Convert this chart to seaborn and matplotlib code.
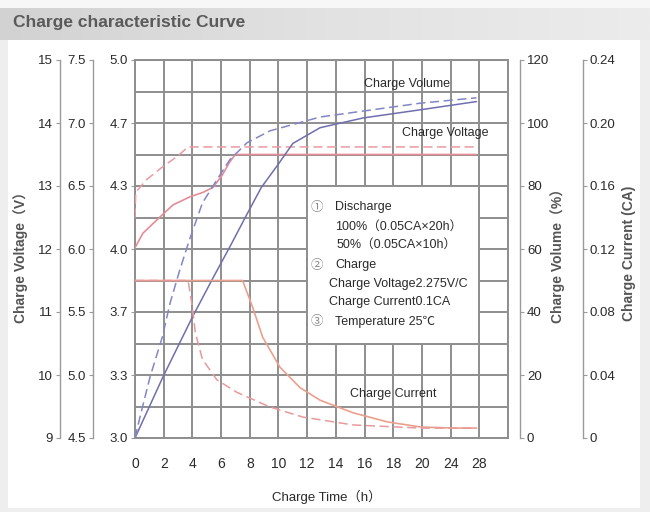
import numpy as np
import pandas as pd
import matplotlib
matplotlib.use("Agg")
import matplotlib.pyplot as plt
from matplotlib.patches import Rectangle
import seaborn as sns

# ---------------- data ----------------
time_ticks = [0, 2, 4, 6, 8, 10, 12, 14, 16, 18, 20, 22, 24]
time_labels = ["0", "2", "4", "6", "8", "10", "12", "14", "16", "18", "20", "24", "28"]

volt12_ticks = [9, 10, 11, 12, 13, 14, 15]
volt6_ticks = [4.5, 5.0, 5.5, 6.0, 6.5, 7.0, 7.5]
volt2_labels = ["3.0", "3.3", "3.7", "4.0", "4.3", "4.7", "5.0"]
volume_ticks = [0, 20, 40, 60, 80, 100, 120]
current_ticks = [0, 0.04, 0.08, 0.12, 0.16, 0.20, 0.24]
current_labels = ["0", "0.04", "0.08", "0.12", "0.16", "0.20", "0.24"]

# charge volume (%)
vol_full_t = [0, 1.95, 4.0, 5.4, 6.6, 7.8, 8.8, 10.0, 11.0, 12.9, 15.9, 19.9, 23.8]
vol_full = [0, 19.4, 38.4, 50.5, 60.6, 71.0, 79.5, 87.0, 93.5, 98.5, 101.6, 104.2, 106.8]
vol_half_t = [0, 0.35, 1.05, 1.9, 2.45, 3.1, 3.8, 4.7, 5.7, 6.6, 7.8, 9.4, 12.9, 16.4, 19.9, 23.8]
vol_half = [0, 6.7, 19.4, 32.0, 42.9, 53.0, 63.0, 74.6, 81.9, 88.3, 93.7, 97.5, 101.9, 104.1, 106.3, 108.0]

# charge voltage (V)
volt_full_t = [0, 0.55, 1.75, 2.65, 3.85, 4.75, 5.45, 6.1, 6.6, 7.0, 23.8]
volt_full = [12.02, 12.25, 12.51, 12.70, 12.83, 12.90, 12.98, 13.18, 13.38, 13.50, 13.50]
volt_half_t = [0, 0.05, 0.8, 1.9, 3.0, 3.7, 23.8]
volt_half = [12.5, 12.9, 13.1, 13.3, 13.48, 13.62, 13.62]

# charge current (CA)
cur_full_t = [0, 7.5, 8.2, 8.9, 10.1, 11.5, 12.9, 15.2, 17.6, 19.9, 22.2, 23.8]
cur_full = [0.1, 0.1, 0.083, 0.064, 0.045, 0.032, 0.024, 0.016, 0.0102, 0.007, 0.0063, 0.0063]
cur_half_t = [0, 3.7, 4.0, 4.2, 4.7, 5.7, 7.1, 9.4, 11.7, 15.2, 19.9, 23.8]
cur_half = [0.1, 0.1, 0.083, 0.067, 0.05, 0.037, 0.029, 0.0197, 0.0133, 0.0083, 0.0063, 0.0063]

legend_lines = [
    ("①", "Discharge", 335, 207),
    (None, "100%（0.05CA×20h）", 335, 227),
    (None, "50%（0.05CA×10h）", 337, 245),
    ("②", "Charge", 335, 265),
    (None, "Charge Voltage2.275V/C", 329, 284),
    (None, "Charge Current0.1CA", 329, 302),
    ("③", "Temperature 25℃", 335, 322),
]

# ---------------- style ----------------
sns.set_style("white")
FAM = ["Liberation Sans", "Noto Sans CJK SC", "DejaVu Sans"]
plt.rcParams["font.family"] = FAM

W, H = 650, 512
PT = 72 / 100  # points per pixel
fig = plt.figure(figsize=(6.5, 5.12), dpi=100, facecolor="#eeeeee")


def fx(x):
    return x / W


def fy(y):
    return 1 - y / H


# background panels
fig.patches.append(Rectangle((0, fy(8)), 1, 8 / H, transform=fig.transFigure,
                             facecolor="#f7f7f7", edgecolor="none", zorder=-20))
fig.patches.append(Rectangle((fx(8), fy(508)), fx(640 - 8), (508 - 40) / H,
                             transform=fig.transFigure, facecolor="white",
                             edgecolor="none", zorder=-20))
band = fig.add_axes([0, fy(40), 1, 32 / H])
grad = np.linspace(0, 1, 256)[None, :]
band.imshow(grad, aspect="auto", cmap=matplotlib.colors.LinearSegmentedColormap.from_list(
    "g", ["#d2d2d2", "#e2e2e2", "#ececec"]), extent=[0, 1, 0, 1])
band.set_axis_off()
fig.text(fx(13), fy(23), "Charge characteristic Curve", fontsize=12.5,
         fontweight="bold", color="#5a5a5a", va="center", ha="left")

GRID = "#8e8e8e"
SP = "#9a9a9a"
TXT = "#2a2a2a"

ax = fig.add_axes([fx(135), fy(438), fx(373), 378 / H])
ax.set_xlim(0, 26)
ax.set_ylim(0, 120)
ax.set_xticks(time_ticks)
ax.set_xticklabels(time_labels)
ax.set_xticks(np.arange(0, 27, 2), minor=True)
ax.set_yticks(volume_ticks)
ax.set_yticklabels(volt2_labels)
ax.set_yticks(np.arange(10, 120, 20), minor=True)
ax.grid(True, which="both", color=GRID, lw=1.4)
ax.set_axisbelow(True)
for s in ax.spines.values():
    s.set_color(GRID)
    s.set_linewidth(1.4)
ax.tick_params(axis="x", which="both", length=0, pad=14, labelsize=10, labelcolor=TXT)
ax.tick_params(axis="y", which="major", length=3, direction="out", color=SP,
               pad=2, labelsize=9.5, labelcolor=TXT)
ax.tick_params(axis="y", which="minor", length=0)
ax.add_patch(Rectangle((12, 30), 12, 50, facecolor="white", edgecolor=GRID,
                       lw=1.4, zorder=1))


def make_twin(side, offset_px):
    t = ax.twinx()
    for k, s in t.spines.items():
        s.set_visible(k == side)
    t.spines[side].set_position(("outward", offset_px * PT))
    t.spines[side].set_color(SP)
    t.spines[side].set_linewidth(1.0)
    if side == "left":
        t.yaxis.tick_left()
    else:
        t.yaxis.tick_right()
    t.tick_params(axis="y", length=3, direction="out", color=SP, pad=2,
                  labelsize=9.5, labelcolor=TXT)
    t.grid(False)
    return t


ax_v12 = make_twin("left", 75)
ax_v12.set_ylim(9, 15)
ax_v12.set_yticks(volt12_ticks)
ax_v12.set_yticklabels([str(v) for v in volt12_ticks])

ax_v6 = make_twin("left", 42)
ax_v6.set_ylim(4.5, 7.5)
ax_v6.set_yticks(volt6_ticks)
ax_v6.set_yticklabels([f"{v:.1f}" for v in volt6_ticks])

ax_vol = make_twin("right", 12)
ax_vol.set_ylim(0, 120)
ax_vol.set_yticks(volume_ticks)
ax_vol.set_yticklabels([str(v) for v in volume_ticks])

ax_cur = make_twin("right", 75)
ax_cur.set_ylim(0, 0.24)
ax_cur.set_yticks(current_ticks)
ax_cur.set_yticklabels(current_labels)

# ---------------- curves ----------------
def draw(axis, xs, ys, color, dashed, lw=1.1):
    df = pd.DataFrame({"t": xs, "v": ys})
    ln = sns.lineplot(data=df, x="t", y="v", ax=axis, color=color, lw=lw,
                      sort=False, estimator=None, legend=False)
    if dashed:
        ln.lines[-1].set_dashes((6, 3))
    axis.set_xlabel("")
    axis.set_ylabel("")


draw(ax_v12, volt_full_t, volt_full, "#e58c96", False, 1.2)
draw(ax_v12, volt_half_t, volt_half, "#ea9aa2", True)
draw(ax_cur, cur_full_t, cur_full, "#eba08e", False, 1.2)
draw(ax_cur, cur_half_t, cur_half, "#e89a9a", True)
draw(ax_vol, vol_full_t, vol_full, "#6f6fae", False, 1.1)
draw(ax_vol, vol_half_t, vol_half, "#8386c6", True, 1.1)

for t in (ax_v12, ax_v6, ax_vol, ax_cur):
    t.set_xlim(0, 26)
ax_v12.set_ylim(9, 15)
ax_v6.set_ylim(4.5, 7.5)
ax_cur.set_ylim(0, 0.24)
ax_vol.set_ylim(0, 120)

# ---------------- texts ----------------
fig.text(fx(407), fy(84), "Charge Volume", fontsize=9, color=TXT, ha="center", va="center")
fig.text(fx(445), fy(133), "Charge Voltage", fontsize=9, color=TXT, ha="center", va="center")
fig.text(fx(393), fy(394), "Charge Current", fontsize=9, color=TXT, ha="center", va="center")

for circ, txt, x0, y0 in legend_lines:
    if circ:
        fig.text(fx(317), fy(y0), circ, fontsize=9, color="#888888",
                 ha="center", va="center", family=["Noto Sans CJK SC", "DejaVu Sans"])
    fig.text(fx(x0), fy(y0), txt, fontsize=9, color=TXT, ha="left", va="center")

fig.text(fx(21), fy(254), "Charge Voltage（V）", rotation=90, fontsize=10,
         fontweight="bold", color="#555555", ha="center", va="center")
fig.text(fx(558), fy(252), "Charge Volume（%）", rotation=90, fontsize=10,
         fontweight="bold", color="#555555", ha="center", va="center")
fig.text(fx(629), fy(253), "Charge Current (CA)", rotation=90, fontsize=10,
         fontweight="bold", color="#555555", ha="center", va="center")
fig.text(fx(327), fy(497), "Charge Time（h）", fontsize=9.5, color=TXT,
         ha="center", va="center")

fig.savefig("out.png", dpi=100, facecolor=fig.get_facecolor())
